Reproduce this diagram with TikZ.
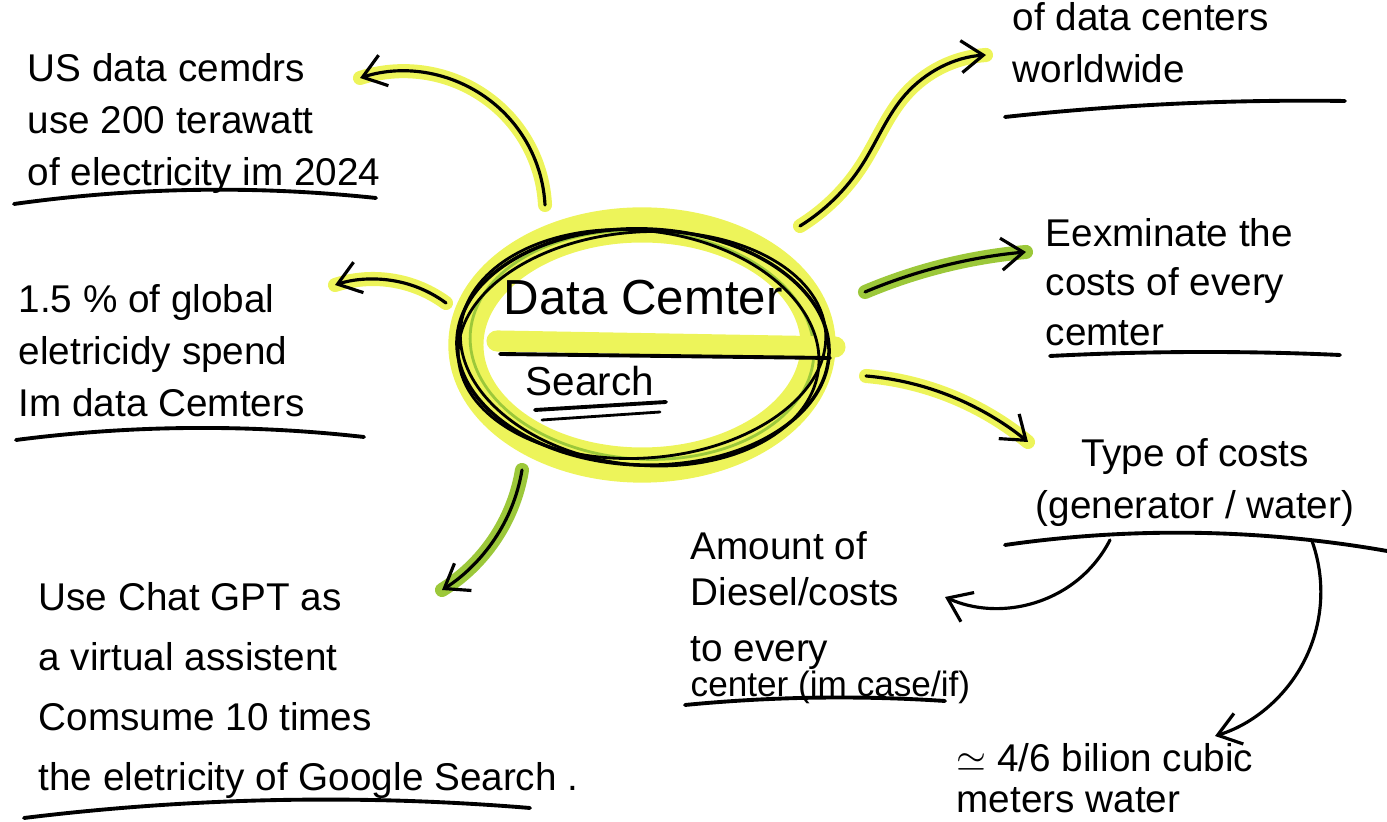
\documentclass[tikz,border=0pt]{standalone}
\usepackage{fontspec}
\setmainfont{Liberation Sans}
\usepackage{xcolor}
\usetikzlibrary{arrows.meta}
\usetikzlibrary{positioning,shapes.geometric}
\usetikzlibrary{hobby}
\definecolor{colorMarker}{HTML}{EDF45A}
\definecolor{colorLeaf}{HTML}{9CC83A}
\def\colorMarker{colorMarker}
\def\colorLeaf{colorLeaf}

\begin{document}
\begin{tikzpicture}[x=0.01cm, y=-0.01cm, use Hobby shortcut,
  bloc/.style={font=\fontsize{11pt}{#1}\selectfont, align=left, anchor=north west, inner sep=0pt},
  bloc/.default=14.8pt,
  fleche/.style={line width=0.9pt, line cap=round, -{Straight Barb[length=2.2mm,width=3.2mm]}},
  surligne/.style={preaction={draw, -, #1, line width=4pt, line cap=round}},
  surligne/.default=colorMarker,
  souligne/.style={line width=1.1pt, line cap=round}]

  \useasboundingbox (0,0) rectangle (1387,822);

  % Bulle centrale
  \draw[\colorMarker, line width=10pt] (642,345) ellipse [x radius=1.76cm, y radius=1.2cm];
  \draw[\colorLeaf, line width=0.8pt, rotate around={-4:(642,345)}] (642,345) ellipse [x radius=1.72cm, y radius=1.14cm];
  \draw[\colorMarker, line width=6pt, line cap=round] (497,341) -- (835,347);
  \draw[souligne] (500,354) -- (830,358);
  \node[ellipse, draw, line width=1pt, minimum width=3.72cm, minimum height=2.36cm, rotate=-2] (centre) at (643,347) {};
  \draw[line width=0.8pt, rotate around={4:(642,345)}] (642,345) ellipse [x radius=1.84cm, y radius=1.13cm];
  \draw[line width=0.8pt, rotate around={-7:(642,345)}] (640,348) ellipse [x radius=1.80cm, y radius=1.17cm];
  \node[font=\fontsize{14pt}{17pt}\selectfont, anchor=base, inner sep=0pt] (titre) at (643,315) {Data Cemter};
  \node[font=\fontsize{11.5pt}{14pt}\selectfont, anchor=base, inner sep=0pt] (recherche) at (590,396) {Search};
  \draw[souligne] (535,410) -- (666,402);
  \draw[line width=0.8pt, line cap=round] (542,420) -- (660,412);

  % Textes de gauche
  \node[bloc] (usBloc) at (27,53) {US data cemdrs\\use 200 terawatt\\of electricity im 2024};
  \draw[souligne] (14,204) .. (190,190) .. (376,198);
  \node[bloc] (partBloc) at (18,284) {1.5 \% of global\\eletricidy spend\\Im data Cemters};
  \draw[souligne] (16,440) .. (190,428) .. (364,437);
  \node[bloc=17pt] (chatBloc) at (38,582) {Use Chat GPT as\\a virtual assistent\\Comsume 10 times\\the eletricity of Google Search .};
  \draw[souligne] (24,818) .. (280,800) .. (530,808);

  % Textes de droite
  \node[bloc] (mondeBloc) at (1012,2) {of data centers\\worldwide};
  \draw[souligne] (1005,117) .. (1170,104) .. (1345,101);
  \node[bloc=14pt] (estimBloc) at (1045,218) {Eexminate the\\costs of every\\cemter};
  \draw[souligne] (1050,356) .. (1200,352) .. (1340,355);
  \node[bloc, align=center, anchor=north] (typeBloc) at (1195,438) {Type of costs\\(generator / water)};
  \draw[souligne] (1005,545) .. (1150,533) .. (1387,551);
  \node[bloc=13pt] (dieselBloc) at (690,531) {Amount of\\Diesel/costs\\[3pt]to every\\[-3pt]{\fontsize{10pt}{10pt}\selectfont center (im case/if)}};
  \draw[souligne] (685,705) .. (800,698) .. (945,701);
  \node[bloc=11.6pt] (eauBloc) at (956,743) {$\simeq$ 4/6 bilion cubic\\meters water};

  % Flèches
  \coordinate (usDepart) at (545,205);
  \coordinate (usFin) at (360,78);
  \draw[fleche, surligne] (usDepart) .. (492,102) .. (usFin);
  \coordinate (partDepart) at (446,303);
  \coordinate (partFin) at (335,285);
  \draw[fleche, surligne] (partDepart) .. (395,281) .. (partFin);
  \coordinate (chatDepart) at (522,470);
  \coordinate (chatFin) at (442,590);
  \draw[fleche, surligne=\colorLeaf] (chatDepart) .. (494,540) .. (chatFin);
  \coordinate (mondeDepart) at (800,226);
  \coordinate (mondeFin) at (986,55);
  \draw[fleche, surligne] (mondeDepart) .. (862,165) .. (905,95) .. (mondeFin);
  \coordinate (estimDepart) at (865,292);
  \coordinate (estimFin) at (1026,252);
  \draw[fleche, surligne=\colorLeaf] (estimDepart) .. (935,268) .. (estimFin);
  \coordinate (typeDepart) at (866,376);
  \coordinate (typeFin) at (1028,442);
  \draw[fleche, surligne] (typeDepart) .. (960,400) .. (typeFin);
  \coordinate (dieselDepart) at (1110,540);
  \coordinate (dieselFin) at (945,597);
  \draw[fleche] (dieselDepart) .. (1065,589) .. (dieselFin);
  \coordinate (eauDepart) at (1312,541);
  \coordinate (eauFin) at (1215,736);
  \draw[fleche] (eauDepart) .. (1298,672) .. (eauFin);

\end{tikzpicture}
\end{document}
